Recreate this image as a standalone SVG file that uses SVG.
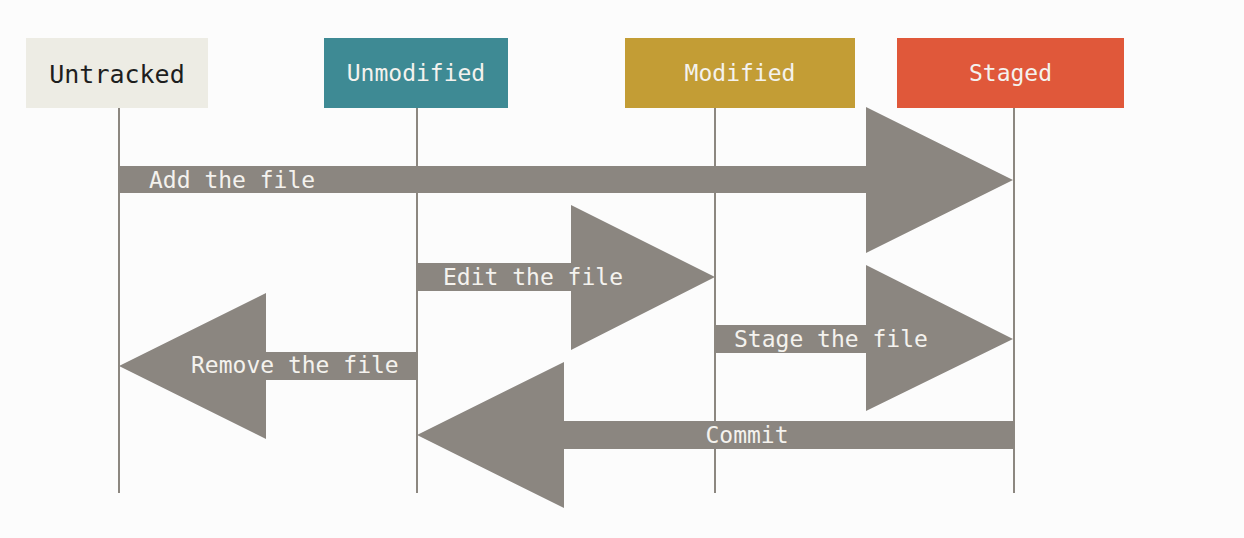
<svg xmlns="http://www.w3.org/2000/svg" width="1244" height="538" viewBox="0 0 1244 538">
  <style>
    .lifeline { stroke: #8c8780; stroke-width: 2; fill: none; }
    .arrow { fill: #8b8680; stroke: none; }
    .hdr { font-family: "DejaVu Sans Mono", "Liberation Mono", monospace; font-size: 23px; text-anchor: middle; fill: #f4f2ee; }
    .lbl { font-family: "DejaVu Sans Mono", "Liberation Mono", monospace; font-size: 23px; fill: #f4f2ee; }
  </style>
  <rect x="0" y="0" width="1244" height="538" fill="#fcfcfc"/>

  <g id="untracked">
    <rect x="26" y="38" width="182" height="70" fill="#edece4"/>
    <text class="hdr" x="117" y="83" style="font-size:25px;fill:#1e1e1e">Untracked</text>
    <line class="lifeline" x1="119" y1="108" x2="119" y2="493"/>
  </g>
  <g id="unmodified">
    <rect x="324" y="38" width="184" height="70" fill="#3e8a94"/>
    <text class="hdr" x="416" y="81">Unmodified</text>
    <line class="lifeline" x1="417" y1="108" x2="417" y2="493"/>
  </g>
  <g id="modified">
    <rect x="625" y="38" width="230" height="70" fill="#c39d35"/>
    <text class="hdr" x="740" y="81">Modified</text>
    <line class="lifeline" x1="715" y1="108" x2="715" y2="493"/>
  </g>
  <g id="staged">
    <rect x="897" y="38" width="227" height="70" fill="#e0583a"/>
    <text class="hdr" x="1010.5" y="81">Staged</text>
    <line class="lifeline" x1="1014" y1="108" x2="1014" y2="493"/>
  </g>

  <g id="connectors">
    <g id="add">
      <polygon class="arrow" points="119,166 866,166 866,107 1013,180 866,253 866,193 119,193"/>
      <text class="lbl" x="149" y="188">Add the file</text>
    </g>
    <g id="edit">
      <polygon class="arrow" points="417,263 571,263 571,205 715,277 571,350 571,291 417,291"/>
      <text class="lbl" x="443" y="285">Edit the file</text>
    </g>
    <g id="stage">
      <polygon class="arrow" points="715,325 866,325 866,265 1013,339 866,411 866,353 715,353"/>
      <text class="lbl" x="734" y="347">Stage the file</text>
    </g>
    <g id="remove">
      <polygon class="arrow" points="417,352 266,352 266,293 119,366 266,439 266,380 417,380"/>
      <text class="lbl" x="191" y="373">Remove the file</text>
    </g>
    <g id="commit">
      <polygon class="arrow" points="1014,421 564,421 564,362 417,435 564,508 564,449 1014,449"/>
      <text class="lbl" x="747" y="443" text-anchor="middle">Commit</text>
    </g>
  </g>
</svg>
